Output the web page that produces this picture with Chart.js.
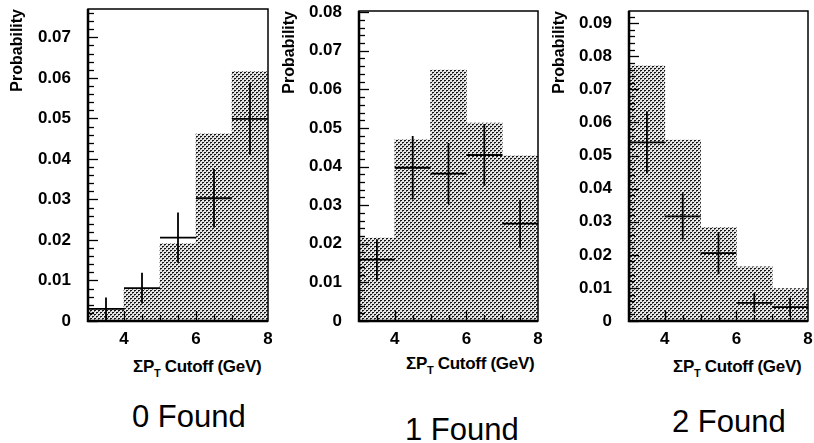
<!DOCTYPE html>
<html>
<head>
<meta charset="utf-8">
<script src="https://cdn.jsdelivr.net/npm/chart.js@4.4.0/dist/chart.umd.min.js"></script>
<style>
body { margin: 0; width: 814px; height: 443px; background: #fff; position: relative; overflow: hidden; }
canvas { position: absolute; top: 0; }
.xt { position: absolute; font: bold 17px "Liberation Sans", sans-serif; line-height: 17px; white-space: nowrap; color: #000; letter-spacing: -0.3px; }
.xt sub { font-size: 11px; vertical-align: -5px; line-height: 0; }
.found { position: absolute; font: 31px "Liberation Sans", Arial, sans-serif; line-height: 31px; white-space: nowrap; color: #000; }
</style>
</head>
<body>
<canvas id="c0" width="272" height="350" style="left:0"></canvas>
<canvas id="c1" width="270" height="350" style="left:272px"></canvas>
<canvas id="c2" width="272" height="350" style="left:542px"></canvas>

<div class="xt" style="left:133px; top:358px">&Sigma;P<sub>T</sub> Cutoff (GeV)</div>
<div class="xt" style="left:406px; top:355px">&Sigma;P<sub>T</sub> Cutoff (GeV)</div>
<div class="xt" style="left:673px; top:358px">&Sigma;P<sub>T</sub> Cutoff (GeV)</div>

<div class="found" style="left:132px; top:401px">0 Found</div>
<div class="found" style="left:405px; top:414px">1 Found</div>
<div class="found" style="left:672px; top:406px">2 Found</div>

<script>
// bins of the sum pT cutoff (GeV)
let binEdges = [3, 4, 5, 6, 7, 8];
let xTicks = [4, 6, 8];

// 0 found
let shade0 = [0.003, 0.0078, 0.0191, 0.0462, 0.0616];
let val0 = [0.003, 0.0081, 0.0206, 0.0303, 0.0499];
let err0 = [0.0028, 0.0038, 0.0062, 0.0072, 0.0089];

// 1 found
let shade1 = [0.0215, 0.047, 0.065, 0.0513, 0.0428];
let val1 = [0.0159, 0.0397, 0.0382, 0.043, 0.0252];
let err1 = [0.0053, 0.0082, 0.0079, 0.008, 0.0062];

// 2 found
let shade2 = [0.0771, 0.0547, 0.0283, 0.0164, 0.0098];
let val2 = [0.054, 0.0316, 0.0205, 0.0055, 0.0042];
let err2 = [0.0094, 0.007, 0.0064, 0.003, 0.0028];

let yMaxes = [0.077, 0.0803, 0.0937];

// stipple pattern for the shaded histogram
function makePattern() {
  let pc = document.createElement('canvas');
  pc.width = 4;
  pc.height = 4;
  let p = pc.getContext('2d');
  p.fillStyle = '#e6e6e6';
  p.fillRect(0, 0, 4, 4);
  p.fillStyle = '#141414';
  p.fillRect(0, 0, 2, 1);
  p.fillRect(2, 2, 2, 1);
  p.fillStyle = '#666';
  p.fillRect(0, 1, 1, 1);
  p.fillRect(2, 3, 1, 1);
  return p.createPattern(pc, 'repeat');
}

// inward ticks + box frame
const frameTicks = {
  id: 'frameTicks',
  afterDatasetsDraw(chart) {
    let ctx = chart.ctx;
    let a = chart.chartArea;
    let xs = chart.scales.x;
    let ys = chart.scales.y;
    ctx.save();
    ctx.strokeStyle = '#000';
    ctx.lineWidth = 1.3;
    for (let i = 0; i * 0.002 <= ys.max + 1e-9; i++) {
      let py = Math.round(ys.getPixelForValue(i * 0.002)) + 0.5;
      let len = (i % 5 === 0) ? 10 : 6;
      ctx.beginPath();
      ctx.moveTo(a.left, py);
      ctx.lineTo(a.left + len, py);
      ctx.stroke();
    }
    for (let i = 1; 3 + i * 0.5 < 8; i++) {
      let v = 3 + i * 0.5;
      let px = Math.round(xs.getPixelForValue(v)) + 0.5;
      let len = xTicks.includes(v) ? 10 : 6;
      ctx.beginPath();
      ctx.moveTo(px, a.bottom);
      ctx.lineTo(px, a.bottom - len);
      ctx.stroke();
    }
    ctx.lineWidth = 1.5;
    ctx.strokeRect(a.left, a.top, a.right - a.left, a.bottom - a.top);
    ctx.lineWidth = 2.5;
    ctx.beginPath();
    ctx.moveTo(a.left, a.top);
    ctx.lineTo(a.left, a.bottom);
    ctx.lineTo(a.right, a.bottom);
    ctx.stroke();
    ctx.restore();
  }
};

function makePanel(id, shade, vals, errs, yMax, yWidth, topPad, rightPad) {
  let canvas = document.getElementById(id);
  let bars = [];
  let hLines = [];
  let vLines = [];
  for (let i = 0; i < shade.length; i++) {
    let lo = binEdges[i];
    let hi = binEdges[i + 1];
    let c = (lo + hi) / 2;
    bars.push({ x: c, y: shade[i] });
    hLines.push({ x: lo, y: vals[i] }, { x: hi, y: vals[i] }, { x: hi, y: null });
    vLines.push({ x: c, y: Math.max(0, vals[i] - errs[i]) }, { x: c, y: vals[i] + errs[i] }, { x: c, y: null });
  }

  new Chart(canvas, {
    type: 'bar',
    data: {
      datasets: [
        {
          type: 'line',
          data: hLines,
          borderColor: '#000',
          borderWidth: 1.8,
          pointRadius: 0,
          spanGaps: false,
          order: 0
        },
        {
          type: 'line',
          data: vLines,
          borderColor: '#000',
          borderWidth: 1.8,
          pointRadius: 0,
          spanGaps: false,
          order: 0
        },
        {
          data: bars,
          backgroundColor: makePattern(),
          borderWidth: 0,
          barPercentage: 1,
          categoryPercentage: 1,
          order: 1
        }
      ]
    },
    options: {
      responsive: false,
      animation: false,
      layout: { padding: { top: topPad, right: rightPad, left: 0, bottom: 0 } },
      plugins: { legend: { display: false }, tooltip: { enabled: false } },
      scales: {
        x: {
          type: 'linear',
          min: 3,
          max: 8,
          offset: false,
          grid: { display: false, drawTicks: false },
          border: { display: false },
          afterBuildTicks: (s) => { s.ticks = xTicks.map(v => ({ value: v })); },
          afterFit: (s) => {
            s.height = canvas.height - 321;
            s.paddingLeft = 0;
            s.paddingRight = 0;
          },
          ticks: {
            padding: 8,
            color: '#000',
            font: { family: 'Liberation Sans', size: 17, weight: 'bold' },
            callback: (v) => String(v)
          }
        },
        y: {
          min: 0,
          max: yMax,
          grid: { display: false, drawTicks: false },
          border: { display: false },
          afterFit: (s) => {
            s.width = yWidth;
            s.paddingTop = 0;
            s.paddingBottom = 0;
          },
          title: {
            display: true,
            text: 'Probability',
            align: 'end',
            color: '#000',
            padding: { top: 8, bottom: 0 },
            font: { family: 'Liberation Sans', size: 16, weight: 'bold' }
          },
          ticks: {
            stepSize: 0.01,
            includeBounds: false,
            padding: 17,
            color: '#000',
            font: { family: 'Liberation Sans', size: 17, weight: 'bold' },
            callback: (v) => v === 0 ? '0' : v.toFixed(2)
          }
        }
      }
    },
    plugins: [frameTicks]
  });
}

makePanel('c0', shade0, val0, err0, yMaxes[0], 88, 9, 4);
makePanel('c1', shade1, val1, err1, yMaxes[1], 87, 11, 4);
makePanel('c2', shade2, val2, err2, yMaxes[2], 87, 11, 6);
</script>
</body>
</html>
